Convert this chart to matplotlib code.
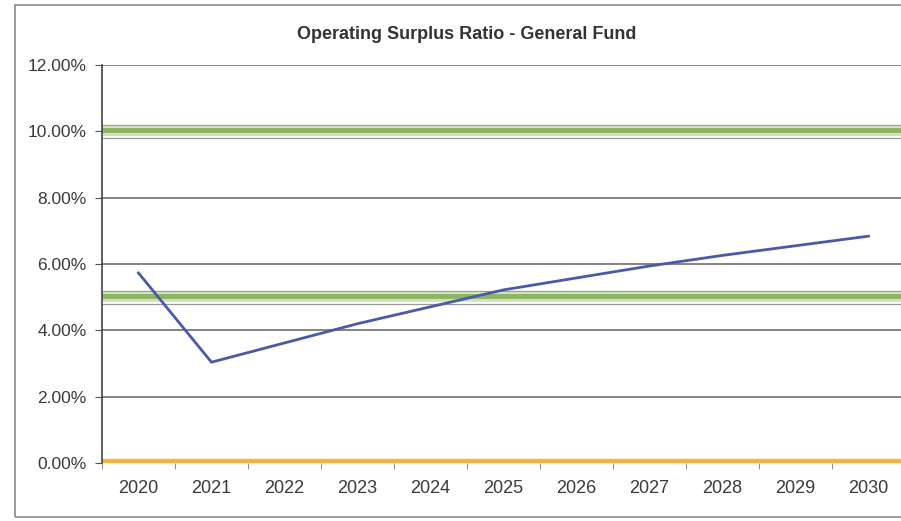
import numpy as np
import matplotlib
matplotlib.use('Agg')
import matplotlib.pyplot as plt
from matplotlib.patches import Rectangle

years = ['2020', '2021', '2022', '2023', '2024', '2025',
         '2026', '2027', '2028', '2029', '2030']
ratio = [5.73, 3.04, 3.62, 4.20, 4.71, 5.22, 5.58, 5.94, 6.26, 6.55, 6.84]

target_high = 10.0
target_low = 5.0
floor = 0.0

plt.rcParams['font.family'] = ['Liberation Sans', 'DejaVu Sans']

fig = plt.figure(figsize=(9.01, 5.21), dpi=100)
ax = fig.add_axes([0.1132, 0.1113, 0.8912, 0.7639])

x = np.arange(len(years))

# horizontal gridlines every 2%
for g in [2, 4, 6, 8, 10, 12]:
    ax.axhline(g, color='#707070', lw=1.2, zorder=1)

# benchmark bands, thin grey edges around a green stripe
for lvl in [target_high, target_low]:
    ax.axhline(lvl + 0.2, color='#9a9a9a', lw=0.9, zorder=2)
    ax.axhline(lvl - 0.2, color='#9a9a9a', lw=0.9, zorder=2)
    ax.axhline(lvl, color='#cfe3b6', lw=7, zorder=2)
    ax.axhline(lvl + 0.05, color='#8db463', lw=3.5, zorder=2)
ax.axhline(floor, color='#f4b43e', lw=6, zorder=2)

ax.plot(x, ratio, color='#4a5aa8', lw=2, zorder=3)

ax.set_xlim(-0.5, len(years) - 0.5)
ax.set_ylim(0, 12)
ax.set_yticks(np.arange(0, 13, 2))
ax.set_yticklabels(['%.2f%%' % v for v in np.arange(0, 13, 2)])
ax.set_xticks(x)
ax.set_xticklabels(years)
ax.set_xticks(np.arange(-0.5, len(years), 1), minor=True)
ax.tick_params(axis='x', which='major', length=0, pad=12, labelsize=13, colors='#3a3a3a')
ax.tick_params(axis='x', which='minor', length=4, direction='out', color='#777777')
ax.tick_params(axis='y', length=5, direction='out', labelsize=12.5, colors='#3a3a3a', pad=6)
ax.tick_params(axis='y', color='#555555')

for s in ['top', 'right', 'bottom']:
    ax.spines[s].set_visible(False)
ax.spines['left'].set_color('#444444')
ax.spines['left'].set_linewidth(1.2)

# outer chart frame
fig.patches.append(Rectangle((15 / 901, 4 / 521), 1.1, 1 - 9 / 521,
                             transform=fig.transFigure, fill=False,
                             edgecolor='#8a8a8a', lw=1.2))

fig.text(0.518, 0.933, 'Operating Surplus Ratio - General Fund',
         ha='center', va='center', fontsize=13, fontweight='bold', color='#333333')

fig.savefig('out.png', dpi=100, facecolor='white')
